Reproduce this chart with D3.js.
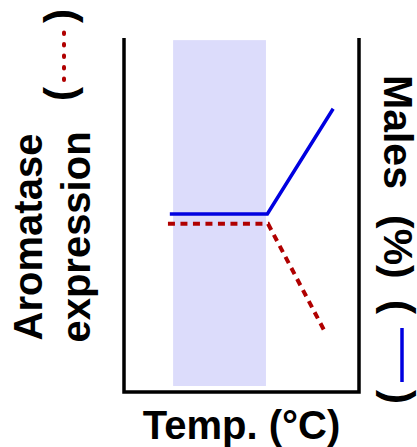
<!DOCTYPE html>
<html>
<head>
<meta charset="utf-8">
<script src="https://cdn.jsdelivr.net/npm/d3@7"></script>
<style>
  body { margin: 0; background: white; }
  text { font-family: "Liberation Sans", Arial, sans-serif; font-weight: bold; fill: black; }
</style>
</head>
<body>
<svg id="graph"></svg>
<script>
// temperature positions (0-100 of the axis width) and values (% of axis height)
var maleTemps = [19.5, 61, 89];
var maleValues = [50.3, 50.3, 80];
var aromTemps = [18.7, 61.3, 85.5];
var aromValues = [47.5, 47.5, 17];
var bandTemps = [20.9, 60.4];
var bandValues = [1.7, 99.4];

var xTitle = "Temp. (°C)";
var leftTitle = ["Aromatase", "expression"];
var rightTitle = ["Males", "(%)"];

var drawChart = function(svgSelector)
{
  var screen = { width: 417, height: 447 };
  var margins = { top: 38, bottom: 55, left: 124, right: 58 };

  var svg = d3.select(svgSelector)
              .attr("width", screen.width)
              .attr("height", screen.height);

  var xScale = d3.scaleLinear()
                 .domain([0, 100])
                 .range([margins.left, screen.width - margins.right]);
  var yScale = d3.scaleLinear()
                 .domain([0, 100])
                 .range([screen.height - margins.bottom, margins.top]);

  // shaded temperature band
  svg.append("rect")
     .attr("x", xScale(bandTemps[0]))
     .attr("y", yScale(bandValues[1]))
     .attr("width", xScale(bandTemps[1]) - xScale(bandTemps[0]))
     .attr("height", yScale(bandValues[0]) - yScale(bandValues[1]))
     .attr("fill", "#dcdcfb");

  // box open at the top
  var x0 = xScale(0), x1 = xScale(100), y0 = yScale(0), y1 = yScale(100);
  svg.append("path")
     .attr("d", "M" + x0 + "," + y1 + "V" + y0 + "H" + x1 + "V" + y1)
     .attr("fill", "none")
     .attr("stroke", "black")
     .attr("stroke-width", 3.5)
     .attr("stroke-linejoin", "miter");

  var line = d3.line()
               .x(function(d){ return xScale(d[0]); })
               .y(function(d){ return yScale(d[1]); });

  svg.append("path")
     .datum(d3.zip(aromTemps, aromValues))
     .attr("d", line)
     .attr("fill", "none")
     .attr("stroke", "#b00000")
     .attr("stroke-width", 4)
     .attr("stroke-dasharray", "7,5.5");

  svg.append("path")
     .datum(d3.zip(maleTemps, maleValues))
     .attr("d", line)
     .attr("fill", "none")
     .attr("stroke", "#0000e0")
     .attr("stroke-width", 3.5);

  // x title
  svg.append("text")
     .attr("x", (x0 + x1) / 2)
     .attr("y", 439)
     .attr("text-anchor", "middle")
     .attr("font-size", 40)
     .text(xTitle);

  // left title
  svg.selectAll(".left-title")
     .data(leftTitle)
     .enter()
     .append("text")
     .classed("left-title", true)
     .attr("transform", function(d, i){ return "translate(" + (42 + i*48) + ",237) rotate(-90)"; })
     .attr("text-anchor", "middle")
     .attr("font-size", 40)
     .text(function(d){ return d; });

  svg.append("text")
     .attr("transform", "translate(74,94) rotate(-90)")
     .attr("text-anchor", "middle")
     .attr("font-size", 42)
     .text("(");
  svg.append("text")
     .attr("transform", "translate(74,16) rotate(-90)")
     .attr("text-anchor", "middle")
     .attr("font-size", 42)
     .text(")");
  svg.append("line")
     .attr("x1", 64).attr("x2", 64)
     .attr("y1", 80).attr("y2", 24)
     .attr("stroke", "#b00000")
     .attr("stroke-width", 4)
     .attr("stroke-linecap", "round")
     .attr("stroke-dasharray", "1.5,10");

  // right title
  var rightStarts = [75, 215];
  svg.selectAll(".right-title")
     .data(rightTitle)
     .enter()
     .append("text")
     .classed("right-title", true)
     .attr("transform", function(d, i){ return "translate(384," + rightStarts[i] + ") rotate(90)"; })
     .attr("font-size", 41)
     .text(function(d){ return d; });

  svg.append("text")
     .attr("transform", "translate(385,307) rotate(90)")
     .attr("text-anchor", "middle")
     .attr("font-size", 42)
     .text("(");
  svg.append("text")
     .attr("transform", "translate(385,397) rotate(90)")
     .attr("text-anchor", "middle")
     .attr("font-size", 42)
     .text(")");
  svg.append("line")
     .attr("x1", 402).attr("x2", 402)
     .attr("y1", 328).attr("y2", 382)
     .attr("stroke", "#0000e0")
     .attr("stroke-width", 3.5);
}

drawChart("#graph");
</script>
</body>
</html>
